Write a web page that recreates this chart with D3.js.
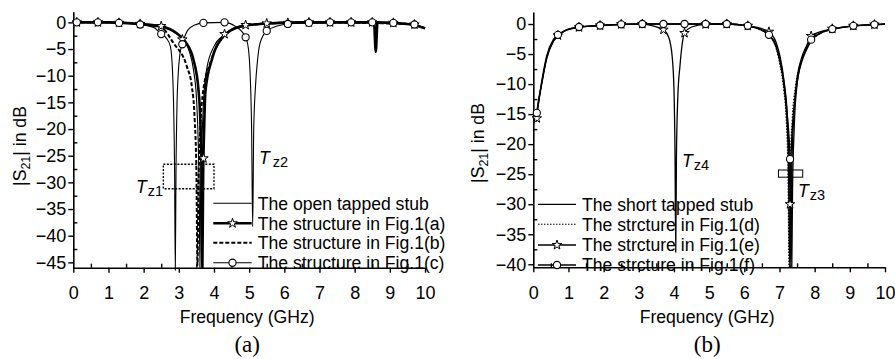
<!DOCTYPE html>
<html>
<head>
<meta charset="utf-8">
<script src="https://cdn.jsdelivr.net/npm/d3@7"></script>
<style>
  body { margin: 0; background: #fff; }
  svg { display: block; font-family: "Liberation Sans", Arial, sans-serif; }
</style>
</head>
<body>
<svg id="chart" width="895" height="359"></svg>
<script>
// ---- tick values ----
const xTicks = [0, 1, 2, 3, 4, 5, 6, 7, 8, 9, 10];
const xMinor = [0.5, 1.5, 2.5, 3.5, 4.5, 5.5, 6.5, 7.5, 8.5, 9.5];
const yTicksA = [0, -5, -10, -15, -20, -25, -30, -35, -40, -45];
const yMinorA = [-2.5, -7.5, -12.5, -17.5, -22.5, -27.5, -32.5, -37.5, -42.5];
const yTicksB = [0, -5, -10, -15, -20, -25, -30, -35, -40];
const yMinorB = [-2.5, -7.5, -12.5, -17.5, -22.5, -27.5, -32.5, -37.5];

// ---- panel (a) data: [GHz, dB] ----
const openStubA = [[0.05,0],[1,0],[1.9,-0.3],[2.5,-0.8],[2.9,-1.9],[3.1,-3],[3.3,-5.5],[3.42,-9],[3.5,-14],
  [3.55,-22],[3.58,-32],[3.6,-46],[3.62,-32],[3.66,-22],[3.71,-14],[3.8,-8.5],[4.0,-4.5],[4.3,-2.3],
  [4.7,-1],[5.5,-0.3],[6.5,-0.1],[8.5,0],[9.5,-0.3],[10,-1.1]];
const fig1aA = [[0.05,0],[1,0],[1.9,-0.3],[2.5,-0.75],[2.95,-2.1],[3.18,-3.6],[3.42,-7.1],[3.56,-12.7],
  [3.62,-20],[3.65,-30],[3.67,-46],[3.69,-30],[3.72,-20],[3.76,-12.7],[3.94,-7],[4.26,-2.7],[4.74,-0.8],
  [5.5,-0.2],[6.5,0],[8.55,0],[8.6,-5.5],[8.65,0],[9.5,-0.3],[10,-1.1]];
const fig1bA = [[0.05,0],[1,0],[1.9,-0.3],[2.52,-1.1],[2.85,-3.9],[3.23,-8.3],[3.37,-12],[3.45,-18],
  [3.5,-28],[3.53,-45.5],[3.56,-30],[3.61,-20],[3.69,-13],[3.9,-7.5],[4.24,-2.9],[4.74,-0.8],
  [5.5,-0.2],[6.5,0],[9.5,-0.3],[10,-1.1]];
const fig1cA = [[0.05,0],[1.3,-0.1],[1.9,-0.4],[2.3,-1],[2.5,-2.2],[2.65,-3],[2.76,-4.5],[2.82,-9],
  [2.85,-15],[2.88,-28],[2.9,-46.5],[2.92,-28],[2.95,-15],[2.98,-10],[3.03,-6],[3.1,-4.1],[3.25,-1.5],
  [3.45,-0.5],[3.7,-0.1],[4.3,0],[4.6,-0.7],[4.9,-2.8],[4.98,-5],[5.03,-10],[5.07,-20],[5.1,-38.3],
  [5.13,-20],[5.18,-12],[5.24,-7],[5.31,-3.9],[5.5,-1.6],[5.8,-0.7],[6.1,-0.3],[6.7,-0.1],[7.3,0],
  [9.1,-0.1],[9.7,-0.4],[10,-1]];
const starMarksA = [[0.1,0],[0.7,0],[1.3,-0.1],[1.9,-0.3],[2.5,-0.7],[3.1,-3.2],[3.7,-25.5],[4.3,-2.2],
  [4.9,-0.5],[5.5,-0.2],[6.1,-0.1],[6.7,0],[7.3,0],[7.9,0],[8.5,0],[9.1,-0.1],[9.7,-0.4]];
const circleMarksA = [[0.1,0],[0.7,0],[1.3,-0.1],[1.9,-0.4],[2.5,-2.2],[3.1,-4.1],[3.7,-0.1],[4.3,0],
  [4.9,-2.8],[5.5,-1.6],[6.1,-0.3],[6.7,-0.1],[7.3,0],[7.9,0],[8.5,0],[9.1,-0.1],[9.7,-0.4]];
const legendA = ["The open tapped stub", "The structure in Fig.1(a)", "The structure in Fig.1(b)", "The structure in Fig.1(c)"];

// ---- panel (b) data ----
const shortStubB = [[0.08,-15.6],[0.15,-12.6],[0.24,-9.8],[0.38,-5.6],[0.57,-2.8],[0.71,-1.9],[0.95,-1.0],
  [1.33,-0.5],[1.92,-0.25],[2.5,-0.08],[3.1,0],[5.5,0],[6.1,-0.35],[6.45,-0.9],[6.72,-1.9],[6.9,-3.8],
  [7.02,-6.5],[7.12,-10],[7.2,-15],[7.25,-22],[7.29,-40.5],[7.33,-22],[7.38,-16],[7.45,-12],[7.53,-8.7],
  [7.65,-6],[7.77,-4.3],[7.92,-2.7],[8.15,-1.6],[8.5,-0.9],[9.1,-0.35],[9.7,-0.1],[10,-0.05]];
const fig1dB = [[0.08,-15.8],[0.15,-12.8],[0.24,-9.9],[0.38,-5.6],[0.57,-2.7],[0.71,-1.85],[0.95,-1.0],
  [1.33,-0.5],[1.92,-0.25],[2.5,-0.05],[3.1,0],[5.5,0],[6.1,-0.35],[6.45,-1],[6.72,-2],[6.9,-4],[7.02,-7],
  [7.12,-11],[7.2,-17],[7.24,-25],[7.27,-40.5],[7.3,-25],[7.36,-16],[7.45,-10.5],[7.55,-7.5],[7.7,-4.8],
  [7.9,-2.8],[8.15,-1.6],[8.5,-0.9],[9.1,-0.35],[9.7,-0.1],[10,0]];
const fig1eB = [[0.08,-16.3],[0.15,-13],[0.24,-10],[0.38,-5.8],[0.57,-2.9],[0.7,-1.9],[0.95,-1.0],[1.3,-0.55],
  [1.9,-0.25],[2.5,-0.05],[3.1,-0.05],[3.4,-0.3],[3.7,-0.95],[3.85,-2.2],[3.95,-5.5],[4.0,-11],[4.03,-22],
  [4.05,-38],[4.07,-22],[4.11,-12],[4.17,-7],[4.23,-3.5],[4.3,-1.5],[4.5,-0.5],[4.9,-0.05],[5.5,0],
  [6.1,-0.3],[6.45,-0.7],[6.7,-1.3],[6.9,-3],[7.02,-5.5],[7.13,-9.5],[7.22,-15],[7.27,-22],[7.3,-30],
  [7.32,-40.5],[7.35,-24],[7.41,-15],[7.5,-9],[7.62,-5.8],[7.77,-3.6],[7.9,-2],[8.15,-1.3],[8.5,-0.8],
  [9.1,-0.3],[9.7,-0.1],[10,0]];
const fig1fB = [[0.08,-15.2],[0.1,-14.8],[0.24,-9.5],[0.38,-5.3],[0.57,-2.6],[0.71,-1.8],[0.95,-0.95],
  [1.33,-0.5],[1.92,-0.25],[2.5,-0.05],[3.1,0],[5.5,0],[6.1,-0.3],[6.45,-0.9],[6.7,-1.8],[6.9,-3.5],
  [7.03,-6.3],[7.13,-9.8],[7.22,-15],[7.3,-22.5],[7.33,-30],[7.35,-40.5],[7.37,-28],[7.42,-17],[7.5,-10],
  [7.62,-6.3],[7.77,-4],[7.9,-2.6],[8.15,-1.5],[8.5,-0.85],[9.1,-0.3],[9.7,-0.1],[10,0]];
const starMarksB = [[0.1,-15.7],[0.7,-1.9],[1.3,-0.55],[1.9,-0.25],[2.5,-0.05],[3.1,0],[3.7,-0.95],[4.3,-1.5],
  [4.9,-0.05],[5.5,0],[6.1,-0.3],[6.7,-1.3],[7.3,-30],[7.9,-2],[8.5,-0.8],[9.1,-0.3],[9.7,-0.1]];
const circleMarksB = [[0.1,-14.8],[0.7,-1.8],[1.3,-0.5],[1.9,-0.25],[2.5,-0.05],[3.1,0],[3.7,0],[4.3,0],
  [4.9,0],[5.5,0],[6.1,-0.3],[6.7,-1.8],[7.3,-22.5],[7.9,-2.6],[8.5,-0.85],[9.1,-0.3],[9.7,-0.1]];
const legendB = ["The short tapped stub", "The strcture in Fig.1(d)", "The strcture in Fig.1(e)", "The strcture in Fig.1(f)"];

const svg = d3.select("#chart");

const styles = {
  thin:   { w: 1.1, dash: null },
  thick:  { w: 2.6, dash: null },
  dashed: { w: 2.0, dash: "4,2" },
  dotted: { w: 1.1, dash: "1.5,1.5" },
  solid:  { w: 1.3, dash: null }
};

function drawPanel(cfg) {
  const g = svg.append("g");
  const x = d3.scaleLinear().domain([0, 10]).range([cfg.left, cfg.right]);
  const y = d3.scaleLinear().domain(cfg.yDomain).range([cfg.bottom, cfg.top]);

  // x axis: major ticks out, minor ticks in
  g.append("g").attr("transform", `translate(0,${cfg.bottom})`)
    .call(d3.axisBottom(x).tickValues(xTicks).tickSize(5).tickSizeOuter(0).tickPadding(14).tickFormat(d3.format("d")));
  g.append("g").attr("transform", `translate(0,${cfg.bottom})`)
    .call(d3.axisBottom(x).tickValues(xMinor).tickSize(-4).tickFormat(""))
    .call(a => a.select(".domain").remove());

  g.append("g").attr("transform", `translate(${cfg.left},0)`)
    .call(d3.axisLeft(y).tickValues(cfg.yTicks).tickSize(5).tickSizeOuter(0).tickPadding(2));
  g.append("g").attr("transform", `translate(${cfg.left},0)`)
    .call(d3.axisLeft(y).tickValues(cfg.yMinor).tickSize(-4).tickFormat(""))
    .call(a => a.select(".domain").remove());

  g.selectAll(".domain").attr("stroke", "#000").attr("stroke-width", 1.6);
  g.selectAll(".tick line").attr("stroke", "#000").attr("stroke-width", 1.4);
  g.selectAll(".tick text").attr("font-size", 18).attr("fill", "#000")
    .attr("font-family", "'Liberation Sans', Arial, sans-serif");

  // axis titles
  const midX = (cfg.left + cfg.right) / 2 - 2;
  g.append("text").attr("x", midX).attr("y", 323).attr("text-anchor", "middle")
    .attr("font-size", 17.6).text("Frequency (GHz)");
  const yt = g.append("text").attr("transform", `translate(${cfg.yTitleX},${cfg.yTitleY}) rotate(-90)`)
    .attr("text-anchor", "middle").attr("font-size", 17.6);
  yt.append("tspan").text("|S");
  yt.append("tspan").attr("font-size", 12.5).attr("dy", 4).text("21");
  yt.append("tspan").attr("dy", -4).text("| in dB");
  g.append("text").attr("x", midX).attr("y", 352).attr("text-anchor", "middle")
    .attr("font-family", "'Liberation Serif', 'Times New Roman', serif").attr("font-size", 23)
    .text(cfg.label);

  // curves
  const line = d3.line().x(d => x(d[0])).y(d => y(d[1])).curve(d3.curveMonotoneX);
  cfg.series.forEach(s => {
    const st = styles[s.style];
    g.append("path").datum(s.data).attr("d", line)
      .attr("fill", "none").attr("stroke", "#000").attr("stroke-width", st.w)
      .attr("stroke-dasharray", st.dash).attr("stroke-linejoin", "round");
  });

  // markers
  const star = d3.symbol().type(d3.symbolStar).size(28);
  g.selectAll(".star").data(cfg.stars).enter().append("path")
    .attr("transform", d => `translate(${x(d[0])},${y(d[1])})`).attr("d", star)
    .attr("fill", "#fff").attr("stroke", "#000").attr("stroke-width", 1);
  g.selectAll(".circ").data(cfg.circles).enter().append("circle")
    .attr("cx", d => x(d[0])).attr("cy", d => y(d[1])).attr("r", 3.6)
    .attr("fill", "#fff").attr("stroke", "#000").attr("stroke-width", 1.1);

  // legend
  const lg = g.append("g");
  cfg.legend.forEach((txt, i) => {
    const ry = cfg.legRows[i];
    const st = styles[cfg.series[i].style];
    lg.append("line").attr("x1", cfg.legX1).attr("x2", cfg.legX2).attr("y1", ry).attr("y2", ry)
      .attr("stroke", "#000").attr("stroke-width", st.w).attr("stroke-dasharray", st.dash);
    const mx = (cfg.legX1 + cfg.legX2) / 2;
    if (cfg.series[i].marker === "star") {
      lg.append("path").attr("transform", `translate(${mx},${ry})`).attr("d", star)
        .attr("fill", "#fff").attr("stroke", "#000").attr("stroke-width", 1);
    } else if (cfg.series[i].marker === "circle") {
      lg.append("circle").attr("cx", mx).attr("cy", ry).attr("r", 3.6)
        .attr("fill", "#fff").attr("stroke", "#000").attr("stroke-width", 1.1);
    }
    lg.append("text").attr("x", cfg.legX2 + 6).attr("y", ry + 6.3).attr("font-size", 17.6).text(txt);
  });

  // annotations
  cfg.notes.forEach(n => {
    const t = g.append("text").attr("x", n.x).attr("y", n.y).attr("font-size", 17.6);
    t.append("tspan").attr("font-style", "italic").text("T");
    t.append("tspan").attr("dx", n.gap).attr("dy", 3).attr("font-size", 14.5).text(n.sub);
  });
  cfg.boxes.forEach(b => {
    g.append("rect").attr("x", x(b.f0)).attr("y", y(b.d0))
      .attr("width", x(b.f1) - x(b.f0)).attr("height", y(b.d1) - y(b.d0))
      .attr("fill", "none").attr("stroke", "#000").attr("stroke-width", b.dash ? 1.3 : 1)
      .attr("stroke-dasharray", b.dash);
  });

  return g;
}

drawPanel({
  left: 73.3, right: 425, top: 11.7, bottom: 267.7, yDomain: [-46, 2],
  yTicks: yTicksA, yMinor: yMinorA, label: "(a)", yTitleX: 26, yTitleY: 146,
  series: [
    { data: openStubA, style: "thin" },
    { data: fig1aA, style: "thick", marker: "star" },
    { data: fig1bA, style: "dashed" },
    { data: fig1cA, style: "thin", marker: "circle" }
  ],
  stars: starMarksA, circles: circleMarksA,
  legend: legendA, legX1: 213.3, legX2: 251.7, legRows: [203.3, 223.3, 242.7, 262.7],
  notes: [{ x: 259, y: 164, sub: "z2", gap: 3 }, { x: 136, y: 193, sub: "z1", gap: 1 }],
  boxes: [{ f0: 2.56, f1: 4.0, d0: -26.6, d1: -31.2, dash: "2,1.5" }]
});

drawPanel({
  left: 533.3, right: 885, top: 12, bottom: 267.3, yDomain: [-40.5, 2],
  yTicks: yTicksB, yMinor: yMinorB, label: "(b)", yTitleX: 484, yTitleY: 143,
  series: [
    { data: shortStubB, style: "solid" },
    { data: fig1dB, style: "dotted" },
    { data: fig1eB, style: "solid", marker: "star" },
    { data: fig1fB, style: "solid", marker: "circle" }
  ],
  stars: starMarksB, circles: circleMarksB,
  legend: legendB, legX1: 538, legX2: 576, legRows: [204.3, 224.3, 245, 265],
  notes: [{ x: 682, y: 167, sub: "z4", gap: 1 }, { x: 798, y: 197, sub: "z3", gap: 1 }],
  boxes: [{ f0: 6.97, f1: 7.66, d0: -24.3, d1: -25.5, dash: null }]
});
</script>
</body>
</html>
